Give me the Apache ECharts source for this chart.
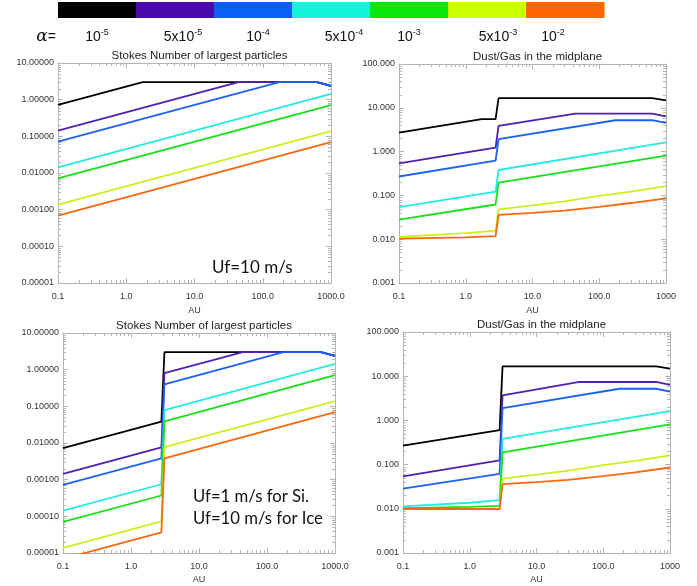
<!DOCTYPE html>
<html>
<head>
<meta charset="utf-8">
<script src="https://cdn.jsdelivr.net/npm/echarts@6/dist/echarts.min.js"></script>
<style>
html,body{margin:0;padding:0;background:#fff;}
#chart{width:697px;height:586px;}
</style>
</head>
<body>
<div id="chart"></div>
<script>
// ---------------- DATA ----------------
const alphaLabels = ['10^-5', '5x10^-5', '10^-4', '5x10^-4', '10^-3', '5x10^-3', '10^-2'];
const lineColors = ['#000000', '#5020b0', '#1a62f0', '#22ece0', '#18e018', '#c8f020', '#f8680f'];
const barColors = ['#000000', '#4a0aad', '#0b5ff5', '#14f3dc', '#0ae70a', '#ccff00', '#ff6600'];

const xTickLabelsA = ['0.1', '1.0', '10.0', '100.0', '1000.0'];
const xTickLabelsB = ['0.1', '1.0', '10.0', '100.0', '1000'];
const stokesTickLabels = ['0.00001', '0.00010', '0.00100', '0.01000', '0.10000', '1.00000', '10.00000'];
const dustTickLabels = ['0.001', '0.010', '0.100', '1.000', '10.000', '100.000'];

// Stokes number, Uf = 10 m/s  (series order: alpha 1e-5 ... 1e-2)
const stokesUf10 = [
  [[0.1, 0.72], [1.74, 3.0], [620, 3.0], [1000, 2.36]],
  [[0.1, 0.143], [44, 3.0], [620, 3.0], [1000, 2.36]],
  [[0.1, 0.0716], [175, 3.0], [620, 3.0], [1000, 2.36]],
  [[0.1, 0.0143], [1000, 1.43]],
  [[0.1, 0.0071], [1000, 0.71]],
  [[0.1, 0.00138], [1000, 0.138]],
  [[0.1, 0.00069], [1000, 0.069]]
];
// Dust/Gas, Uf = 10 m/s
const dustUf10 = [
  [[0.1, 2.7], [1.74, 5.5], [2.8, 5.5], [3.1, 16.7], [620, 16.7], [1000, 14.8]],
  [[0.1, 0.54], [2.8, 1.23], [3.1, 3.86], [44, 7.4], [620, 7.4], [1000, 6.4]],
  [[0.1, 0.27], [2.8, 0.62], [3.1, 1.93], [175, 5.2], [620, 5.2], [1000, 4.5]],
  [[0.1, 0.054], [2.8, 0.122], [3.1, 0.38], [1000, 1.62]],
  [[0.1, 0.028], [2.8, 0.062], [3.1, 0.195], [1000, 0.81]],
  [[0.1, 0.0113], [1, 0.0137], [2.8, 0.0157], [3.1, 0.048], [10, 0.059], [30, 0.073], [100, 0.097], [300, 0.122], [1000, 0.162]],
  [[0.1, 0.0103], [1, 0.011], [2.8, 0.0117], [3.1, 0.036], [10, 0.040], [30, 0.045], [100, 0.055], [300, 0.067], [1000, 0.086]]
];
// Stokes number, Uf = 1 m/s (Si) / 10 m/s (ice)
const stokesMixed = [
  [[0.1, 0.0072], [2.8, 0.038], [3.1, 3.0], [620, 3.0], [1000, 2.36]],
  [[0.1, 0.00143], [2.8, 0.0076], [3.1, 0.80], [44, 3.0], [620, 3.0], [1000, 2.36]],
  [[0.1, 0.00072], [2.8, 0.0038], [3.1, 0.40], [175, 3.0], [620, 3.0], [1000, 2.36]],
  [[0.1, 0.000143], [2.8, 0.00075], [3.1, 0.079], [1000, 1.43]],
  [[0.1, 0.000071], [2.8, 0.00037], [3.1, 0.039], [1000, 0.71]],
  [[0.1, 0.0000138], [2.8, 0.000073], [3.1, 0.0077], [1000, 0.138]],
  [[0.1, 0.0000069], [2.8, 0.0000365], [3.1, 0.0038], [1000, 0.069]]
];
// Dust/Gas, Uf = 1 m/s (Si) / 10 m/s (ice)
const dustMixed = [
  [[0.1, 0.268], [2.8, 0.6], [3.1, 16.7], [620, 16.7], [1000, 14.8]],
  [[0.1, 0.054], [2.8, 0.124], [3.1, 3.7], [44, 7.4], [620, 7.4], [1000, 6.4]],
  [[0.1, 0.0286], [2.8, 0.062], [3.1, 1.9], [175, 5.2], [620, 5.2], [1000, 4.5]],
  [[0.1, 0.0113], [1, 0.0137], [2.8, 0.0157], [3.1, 0.38], [1000, 1.62]],
  [[0.1, 0.0103], [1, 0.011], [2.8, 0.0117], [3.1, 0.19], [1000, 0.81]],
  [[0.1, 0.0100], [2.8, 0.0101], [3.1, 0.048], [10, 0.059], [30, 0.073], [100, 0.097], [300, 0.122], [1000, 0.162]],
  [[0.1, 0.0099], [2.8, 0.0099], [3.1, 0.036], [10, 0.040], [30, 0.045], [100, 0.055], [300, 0.067], [1000, 0.086]]
];

// ---------------- LAYOUT ----------------
const FONT = 'Liberation Sans, Arial, sans-serif';
const AXIS_COLOR = '#b4b4b4';
const panels = [
  { grid: { left: 58, top: 63, width: 273, height: 220 }, title: 'Stokes Number of largest particles',
    data: stokesUf10, yMin: 1e-5, yMax: 10, yLabels: stokesTickLabels, xLabels: xTickLabelsA, nameGap: 23 },
  { grid: { left: 399, top: 64, width: 267, height: 219 }, title: 'Dust/Gas in the midplane',
    data: dustUf10, yMin: 1e-3, yMax: 100, yLabels: dustTickLabels, xLabels: xTickLabelsB, nameGap: 23 },
  { grid: { left: 63, top: 333, width: 272, height: 220 }, title: 'Stokes Number of largest particles',
    data: stokesMixed, yMin: 1e-5, yMax: 10, yLabels: stokesTickLabels, xLabels: xTickLabelsA, nameGap: 22 },
  { grid: { left: 403, top: 332, width: 267, height: 221 }, title: 'Dust/Gas in the midplane',
    data: dustMixed, yMin: 1e-3, yMax: 100, yLabels: dustTickLabels, xLabels: xTickLabelsB, nameGap: 22 }
];
const X_MIN = 0.1, X_MAX = 1000;

const grids = [], xAxes = [], yAxes = [], series = [], titles = [];

function expOf(v) { return Math.round(Math.log10(v)); }

panels.forEach((p, i) => {
  grids.push(Object.assign({ containLabel: false }, p.grid));
  titles.push({
    text: p.title, left: p.grid.left + p.grid.width / 2, top: p.grid.top - 18, textAlign: 'center',
    textStyle: { fontSize: 11.5, fontWeight: 'normal', color: '#222', fontFamily: FONT }
  });
  const xMinExp = expOf(X_MIN), yMinExp = expOf(p.yMin);
  const common = {
    gridIndex: i, type: 'log', logBase: 10, interval: 1,
    splitLine: { show: false },
    axisLine: { show: true, onZero: false, lineStyle: { color: AXIS_COLOR, width: 1 } },
    axisTick: { show: true, inside: true, length: 5, lineStyle: { color: AXIS_COLOR } }
  };
  xAxes.push(Object.assign({}, common, {
    min: X_MIN, max: X_MAX, position: 'bottom',
    axisLabel: { fontSize: 9, color: '#333', fontFamily: FONT, margin: 9,
      formatter: v => p.xLabels[expOf(v) - xMinExp] },
    name: 'AU', nameLocation: 'middle', nameGap: p.nameGap,
    nameTextStyle: { fontSize: 9, color: '#333', fontFamily: FONT }
  }));
  xAxes.push(Object.assign({}, common, {
    min: X_MIN, max: X_MAX, position: 'top', axisLabel: { show: false }
  }));
  yAxes.push(Object.assign({}, common, {
    min: p.yMin, max: p.yMax, position: 'left',
    axisLabel: { fontSize: 9, color: '#333', fontFamily: FONT, margin: 4,
      formatter: v => p.yLabels[expOf(v) - yMinExp] }
  }));
  yAxes.push(Object.assign({}, common, {
    min: p.yMin, max: p.yMax, position: 'right', axisLabel: { show: false }
  }));

  // minor ticks (2..9 x 10^k) on all four sides, placed through the axis scales
  const xMaxExp = expOf(X_MAX), yMaxExp = expOf(p.yMax);
  series.push({
    type: 'custom', xAxisIndex: 2 * i, yAxisIndex: 2 * i, silent: true, clip: false, z: 1,
    data: [[X_MIN, p.yMin]],
    renderItem: (params, api) => {
      const cs = params.coordSys;
      const L = cs.x, R = cs.x + cs.width, T = cs.y, B = cs.y + cs.height;
      const ch = [];
      const st = { stroke: AXIS_COLOR, lineWidth: 1 };
      for (let e = xMinExp; e < xMaxExp; e++) {
        for (let m = 2; m <= 9; m++) {
          const px = Math.round(api.coord([m * Math.pow(10, e), p.yMin])[0]) + 0.5;
          ch.push({ type: 'line', shape: { x1: px, y1: B, x2: px, y2: B - 3 }, style: st });
          ch.push({ type: 'line', shape: { x1: px, y1: T, x2: px, y2: T + 3 }, style: st });
        }
      }
      for (let e = yMinExp; e < yMaxExp; e++) {
        for (let m = 2; m <= 9; m++) {
          const py = Math.round(api.coord([X_MIN, m * Math.pow(10, e)])[1]) + 0.5;
          ch.push({ type: 'line', shape: { x1: L, y1: py, x2: L + 3, y2: py }, style: st });
          ch.push({ type: 'line', shape: { x1: R, y1: py, x2: R - 3, y2: py }, style: st });
        }
      }
      return { type: 'group', children: ch };
    }
  });

  p.data.forEach((d, k) => {
    series.push({
      type: 'line', xAxisIndex: 2 * i, yAxisIndex: 2 * i, data: d,
      showSymbol: false, symbol: 'none', clip: true, z: 2 + k,
      lineStyle: { color: lineColors[k], width: 1.8 },
      emphasis: { disabled: true }
    });
  });
});

// ---------------- GRAPHIC (colour key + annotations) ----------------
const graphic = [];
const BAR_X0 = 58, BAR_X1 = 604, BAR_Y = 2, BAR_H = 16;
const segW = (BAR_X1 - BAR_X0) / barColors.length;
barColors.forEach((c, k) => {
  graphic.push({ type: 'rect', shape: { x: BAR_X0 + k * segW, y: BAR_Y, width: segW + 0.5, height: BAR_H },
    style: { fill: c }, silent: true });
});
const labelCenters = [97, 183, 258, 344, 409, 498, 553];
alphaLabels.forEach((s, k) => {
  const parts = s.split('^');
  graphic.push({ type: 'text', silent: true,
    style: { x: labelCenters[k], y: 37, align: 'center', verticalAlign: 'middle',
      text: '{b|' + parts[0] + '}{s|' + parts[1] + '}',
      rich: {
        b: { fontSize: 14, fontFamily: FONT, fill: '#111' },
        s: { fontSize: 9, fontFamily: FONT, fill: '#111', verticalAlign: 'bottom', padding: [0, 0, 9, 0] }
      } } });
});
graphic.push({ type: 'text', silent: true,
  style: { x: 56, y: 37, align: 'right', verticalAlign: 'middle', text: '{a|α}{e|=}',
    rich: { a: { fontSize: 17, fontStyle: 'italic', fontFamily: 'DejaVu Serif, serif', fill: '#111' },
            e: { fontSize: 14, fontFamily: FONT, fill: '#111' } } } });

const ANNOT_FONT = 'Lato, "Open Sans", sans-serif';
graphic.push({ type: 'text', silent: true,
  style: { x: 212, y: 268, align: 'left', verticalAlign: 'middle', text: 'Uf=10 m/s',
    fontSize: 17, fontFamily: ANNOT_FONT, fill: '#111' } });
graphic.push({ type: 'text', silent: true,
  style: { x: 193, y: 497, align: 'left', verticalAlign: 'middle', text: 'Uf=1 m/s for Si.',
    fontSize: 16.7, fontFamily: ANNOT_FONT, fill: '#111' } });
graphic.push({ type: 'text', silent: true,
  style: { x: 193, y: 519, align: 'left', verticalAlign: 'middle', text: 'Uf=10 m/s for Ice',
    fontSize: 16.7, fontFamily: ANNOT_FONT, fill: '#111' } });

const chart = echarts.init(document.getElementById('chart'), null, { renderer: 'canvas' });
chart.setOption({
  animation: false,
  backgroundColor: '#ffffff',
  title: titles,
  grid: grids,
  xAxis: xAxes,
  yAxis: yAxes,
  series: series,
  graphic: graphic
});
</script>
</body>
</html>
